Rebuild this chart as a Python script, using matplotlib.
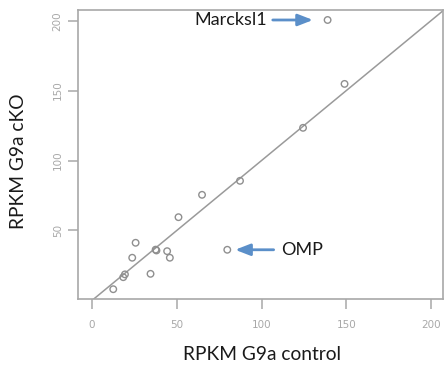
import matplotlib
matplotlib.use("Agg")
import matplotlib.pyplot as plt

# data
control = [139, 149, 124.5, 87.3, 64.9, 51, 79.8, 25.7, 23.7, 38, 37.5, 44.3, 45.9, 34.5, 19.4, 18.4, 12.5]
cko     = [200.5, 154.8, 123.4, 85.5, 75.5, 59.5, 36.2, 41.2, 30.5, 35.7, 36.3, 35.2, 30.5, 19, 18.6, 16.6, 8]
xticks = [0, 50, 100, 150, 200]
yticks = [50, 100, 150, 200]
xlabel = "RPKM G9a control"
ylabel = "RPKM G9a cKO"
labels = {"Marcksl1": (139, 200.5), "OMP": (79.8, 36.2)}

plt.rcParams['font.family'] = ['Lato', 'DejaVu Sans']
fig = plt.figure(figsize=(4.45, 3.72), dpi=100)
ax = fig.add_axes([78/445, (372-299)/372, (443-78)/445, (299-9.5)/372])
ax.set_xlim(-8.3, 207.1)
ax.set_ylim(1.0, 208.0)

ax.plot([0, 210], [0, 210], color='#9a9a9a', lw=1.1, zorder=1)
ax.scatter(control, cko, s=22, facecolors='none', edgecolors='#8f8f8f', linewidths=1.0, zorder=2)

for s in ax.spines.values():
    s.set_color('#a8a8a8')
    s.set_linewidth(1.2)

ax.set_xticks(xticks)
ax.set_yticks(yticks)
ax.set_xticklabels([str(t) for t in xticks], color='#a8a8a8', fontsize=7.5, family=['DejaVu Sans'])
ax.set_yticklabels([str(t) for t in yticks], color='#a8a8a8', fontsize=7.5, rotation=90, va='center', family=['DejaVu Sans'])
ax.tick_params(axis='both', colors='#a8a8a8', length=7, width=1.1)
ax.tick_params(axis='x', pad=8)
ax.tick_params(axis='y', pad=4)
ax.tick_params(axis='both', labelcolor='#a8a8a8')

fig.text(262/445, 1-355/372, xlabel, ha='center', va='center', fontsize=13.8, color='#1a1a1a')
fig.text(19/445, 1-161/372, ylabel, ha='center', va='center', rotation=90, fontsize=13.8, color='#1a1a1a')

arrow_c = '#5b8fc9'
mx, my = labels["Marcksl1"]
ax.annotate("", xy=(mx - 7, my), xytext=(mx - 34, my),
            arrowprops=dict(arrowstyle='-|>,head_length=0.9,head_width=0.35', color=arrow_c, lw=2))
ax.text(mx - 35.5, my, "Marcksl1", ha='right', va='center', fontsize=13, color='#1a1a1a')
ox, oy = labels["OMP"]
ax.annotate("", xy=(ox + 3, oy), xytext=(ox + 29, oy),
            arrowprops=dict(arrowstyle='-|>,head_length=0.9,head_width=0.35', color=arrow_c, lw=2))
ax.text(ox + 32, oy, "OMP", ha='left', va='center', fontsize=13, color='#1a1a1a')

fig.savefig("out.png", dpi=100)
